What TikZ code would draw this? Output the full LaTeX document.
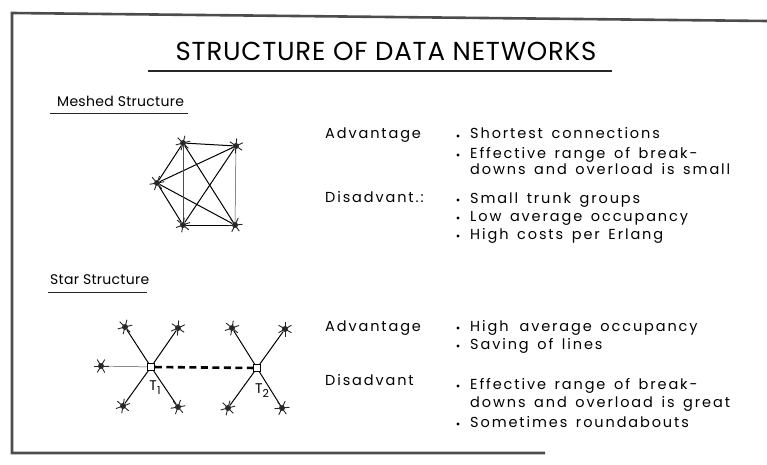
\documentclass[tikz,border=0pt]{standalone}
\usepackage{fontspec}
\setmainfont{Poppins}
\newfontfamily\letterfont[LetterSpace=13,WordSpace=1.5]{Poppins}
\newfontfamily\headfont[LetterSpace=2]{Poppins}
\newfontfamily\titlefont[LetterSpace=3]{Poppins}
\usetikzlibrary{calc}

\tikzset{
  frameline/.style={draw=black!70, line width=2.6pt},
  rule/.style={draw=black!85, line width=1.3pt},
  titletext/.style={anchor=base, inner sep=0pt, font=\titlefont\fontsize{26}{30}\selectfont},
  headtext/.style={anchor=base west, inner sep=0pt, font=\headfont\fontsize{14}{16}\selectfont},
  bodytext/.style={anchor=base west, inner sep=0pt, font=\letterfont\fontsize{14.5}{17}\selectfont},
  dot/.style={circle, fill=black, inner sep=0pt, minimum size=3.4pt},
  station/.style={circle, fill=black!80, inner sep=0pt, minimum size=6pt},
  spoke/.style={draw=black!85, line width=0.9pt},
  link/.style={draw=black, line width=1pt},
  thinlink/.style={draw=black!70, line width=0.5pt},
  exchange/.style={rectangle, draw=black, line width=0.9pt, fill=white, inner sep=0pt, minimum size=7pt},
  trunk/.style={draw=black, line width=2.6pt, dash pattern=on 7pt off 4.5pt},
  exlabel/.style={inner sep=0pt, font=\headfont\fontsize{14}{16}\selectfont},
}

% six-armed marker drawn round a station node
\newcommand{\starmark}[2]{%
  \foreach \a in {0,60,120}
    \draw[spoke] ($(#1)+(\a+#2:7.5pt)$) -- ($(#1)+(\a+#2+180:7.5pt)$);%
}

\begin{document}
\begin{tikzpicture}[x=1pt,y=-1pt]
\useasboundingbox (0,0) rectangle (767,465);

% frame
\coordinate (ftl) at (12,13);
\coordinate (ftr) at (767,21);
\coordinate (fbl) at (12,453);
\coordinate (fbr) at (545,453);
\draw[frameline] (ftr) -- (ftl) -- (fbl) -- (fbr);

% title
\node[titletext] (title) at (386,61) {STRUCTURE OF DATA NETWORKS};
\coordinate (tul) at (148,71);
\coordinate (tur) at (612,71);
\draw[rule] (tul) -- (tur);

% ---------------- meshed structure ----------------
\node[headtext] (meshhead) at (57,107) {Meshed Structure};
\coordinate (mul) at (50,114);
\coordinate (mur) at (188,114);
\draw[rule, line width=1pt] (mul) -- (mur);

\node[station] (m1) at (183,143) {};
\node[station] (m2) at (236,146) {};
\node[station] (m3) at (157,183) {};
\node[station] (m4) at (183,225) {};
\node[station] (m5) at (235,225) {};

\draw[link] (m1) -- (m2);
\draw[link] (m1) -- (m3);
\draw[link] (m1) -- (m5);
\draw[link] (m2) -- (m3);
\draw[link] (m2) -- (m4);
\draw[link] (m3) -- (m4);
\draw[link] (m3) -- (m5);
\draw[link] (m4) -- (m5);
\draw[thinlink] (m1) -- (m4);
\draw[thinlink] (m2) -- (m5);

\starmark{m1}{15}
\starmark{m2}{25}
\starmark{m3}{10}
\starmark{m4}{20}
\starmark{m5}{5}

\node[bodytext] (madv) at (325,139) {Advantage};
\node[dot] (mb1) at (458,136) {};
\node[bodytext] (ma1) at (470,139) {Shortest connections};
\node[dot] (mb2) at (458,155) {};
\node[bodytext] (ma2) at (470,158) {Effective range of break-};
\node[bodytext] (ma3) at (470,175) {downs and overload is small};

\node[bodytext] (mdis) at (325,202) {Disadvant.:};
\node[dot] (mb3) at (458,200) {};
\node[bodytext] (md1) at (470,203) {Small trunk groups};
\node[dot] (mb4) at (458,218) {};
\node[bodytext] (md2) at (470,221) {Low average occupancy};
\node[dot] (mb5) at (458,236) {};
\node[bodytext] (md3) at (470,239) {High costs per Erlang};

% ---------------- star structure ----------------
\node[headtext] (starhead) at (50,284) {Star Structure};
\coordinate (sul) at (48,292);
\coordinate (sur) at (147,292);
\draw[rule, line width=1pt] (sul) -- (sur);

\node[exchange] (t1) at (151,367) {};
\node[exchange] (t2) at (257,368) {};

\node[station] (a1) at (125,327) {};
\node[station] (a2) at (178,328) {};
\node[station] (a3) at (101,366) {};
\node[station] (a4) at (123,406) {};
\node[station] (a5) at (178,407) {};
\node[station] (b1) at (232,328) {};
\node[station] (b2) at (285,329) {};
\node[station] (b3) at (228,408) {};
\node[station] (b4) at (282,408) {};

\draw[link] (t1) -- (a1);
\draw[link] (t1) -- (a2);
\draw[thinlink] (t1) -- (a3);
\draw[link] (t1) -- (a4);
\draw[link] (t1) -- (a5);
\draw[link] (t2) -- (b1);
\draw[link] (t2) -- (b2);
\draw[link] (t2) -- (b3);
\draw[link] (t2) -- (b4);
\draw[trunk] (t1) -- (t2);

\starmark{a1}{15}
\starmark{a2}{25}
\starmark{a3}{0}
\starmark{a4}{20}
\starmark{a5}{10}
\starmark{b1}{20}
\starmark{b2}{30}
\starmark{b3}{15}
\starmark{b4}{5}

\node[exlabel] (t1lab) at (155,388) {T\raisebox{-0.5ex}{\fontsize{11}{12}\selectfont 1}};
\node[exlabel] (t2lab) at (262,391) {T\raisebox{-0.5ex}{\fontsize{11}{12}\selectfont 2}};

\node[bodytext] (sadv) at (325,331) {Advantage};
\node[dot] (sb1) at (458,328) {};
\node[bodytext] (sa1) at (470,331) {High\, average occupancy};
\node[dot] (sb2) at (458,346) {};
\node[bodytext] (sa2) at (470,349) {Saving of lines};

\node[bodytext] (sdis) at (325,385) {Disadvant};
\node[dot] (sb3) at (458,386) {};
\node[bodytext] (sd1) at (470,389) {Effective range of break-};
\node[bodytext] (sd2) at (470,407) {downs and overload is great};
\node[dot] (sb4) at (458,424) {};
\node[bodytext] (sd3) at (470,427) {Sometimes roundabouts};

\end{tikzpicture}
\end{document}
